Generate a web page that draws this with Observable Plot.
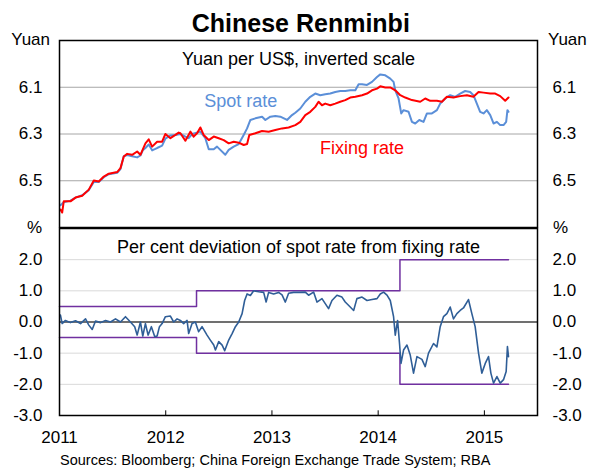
<!DOCTYPE html>
<html><head><meta charset="utf-8">
<script src="https://cdn.jsdelivr.net/npm/d3@7"></script>
<script src="https://cdn.jsdelivr.net/npm/@observablehq/plot@0.6"></script>
<style>
body{margin:0;background:#fff;}
#c{position:relative;width:592px;height:470px;font-family:"Liberation Sans",Arial,sans-serif;color:#000;overflow:hidden;}
.t{position:absolute;white-space:nowrap;line-height:1;}
svg{position:absolute;left:0;}
</style></head><body><div id="c"></div>
<script>
// ---- data (time as decimal years) ----
const yearTicks = [2011, 2012, 2013, 2014, 2015];
const rateTicks = [6.1, 6.3, 6.5];
const devTicks = [-3, -2, -1, 0, 1, 2];
const devGrid = [-2, -1, 1, 2];

// Fixing rate (yuan per US$)
const fixT = [2011.009,2011.025,2011.040,2011.103,2011.151,2011.214,2011.276,2011.323,2011.370,2011.417,
2011.464,2011.543,2011.574,2011.605,2011.637,2011.684,2011.731,2011.762,2011.809,2011.840,
2011.872,2011.919,2011.966,2011.997,2012.044,2012.091,2012.122,2012.138,2012.185,2012.232,
2012.263,2012.295,2012.326,2012.357,2012.405,2012.452,2012.499,2012.546,2012.593,2012.640,
2012.687,2012.734,2012.766,2012.787,2012.844,2012.907,2012.969,2013.032,2013.095,2013.157,
2013.220,2013.267,2013.314,2013.361,2013.408,2013.439,2013.471,2013.502,2013.549,2013.596,
2013.643,2013.690,2013.737,2013.785,2013.848,2013.895,2013.942,2013.989,2014.020,2014.067,
2014.114,2014.161,2014.208,2014.255,2014.318,2014.396,2014.443,2014.490,2014.553,2014.600,
2014.647,2014.709,2014.772,2014.835,2014.897,2014.945,2014.992,2015.055,2015.102,2015.149,
2015.196,2015.227];
const fixV = [6.623,6.636,6.588,6.588,6.572,6.564,6.538,6.499,6.503,6.482,
6.470,6.463,6.446,6.396,6.385,6.389,6.375,6.389,6.340,6.323,
6.354,6.333,6.333,6.300,6.318,6.304,6.294,6.297,6.329,6.290,
6.311,6.297,6.272,6.304,6.326,6.311,6.318,6.326,6.340,6.333,
6.337,6.347,6.343,6.304,6.297,6.287,6.290,6.283,6.276,6.272,
6.262,6.248,6.219,6.205,6.184,6.162,6.177,6.170,6.177,6.170,
6.162,6.155,6.144,6.141,6.134,6.127,6.113,6.106,6.096,6.101,
6.101,6.113,6.134,6.144,6.155,6.162,6.148,6.158,6.158,6.162,
6.141,6.144,6.138,6.134,6.141,6.120,6.123,6.127,6.127,6.138,
6.158,6.144];

// Spot rate (yuan per US$)
const spotT = [2011.009,2011.040,2011.103,2011.151,2011.214,2011.276,2011.323,2011.370,2011.417,2011.464,
2011.543,2011.574,2011.605,2011.637,2011.684,2011.731,2011.762,2011.784,2011.809,2011.840,
2011.872,2011.897,2011.919,2011.966,2011.997,2012.044,2012.091,2012.138,2012.185,2012.216,
2012.248,2012.326,2012.373,2012.405,2012.452,2012.483,2012.514,2012.561,2012.593,2012.640,
2012.687,2012.734,2012.766,2012.797,2012.844,2012.907,2012.938,2012.985,2013.032,2013.079,
2013.142,2013.189,2013.220,2013.267,2013.314,2013.361,2013.408,2013.455,2013.502,2013.549,
2013.596,2013.643,2013.690,2013.737,2013.785,2013.816,2013.848,2013.895,2013.942,2013.989,
2014.020,2014.067,2014.114,2014.145,2014.161,2014.192,2014.217,2014.239,2014.286,2014.318,
2014.349,2014.387,2014.427,2014.459,2014.506,2014.553,2014.584,2014.631,2014.678,2014.725,
2014.772,2014.819,2014.866,2014.897,2014.929,2014.960,2014.992,2015.023,2015.055,2015.086,
2015.118,2015.149,2015.180,2015.205,2015.217,2015.227];
const spotV = [6.605,6.592,6.585,6.572,6.562,6.540,6.505,6.505,6.485,6.472,
6.466,6.450,6.395,6.390,6.395,6.400,6.392,6.370,6.360,6.345,
6.370,6.365,6.360,6.350,6.320,6.306,6.304,6.300,6.311,6.318,
6.300,6.290,6.318,6.365,6.365,6.354,6.368,6.389,6.368,6.354,
6.343,6.304,6.276,6.240,6.233,6.226,6.240,6.226,6.223,6.226,
6.240,6.219,6.209,6.191,6.162,6.141,6.127,6.134,6.130,6.127,
6.120,6.116,6.116,6.113,6.113,6.087,6.087,6.090,6.077,6.056,
6.045,6.049,6.063,6.077,6.113,6.148,6.212,6.198,6.205,6.248,
6.255,6.240,6.248,6.212,6.212,6.198,6.170,6.148,6.134,6.141,
6.127,6.116,6.120,6.134,6.170,6.205,6.212,6.198,6.219,6.255,
6.248,6.262,6.262,6.248,6.198,6.205];

// Per cent deviation of spot rate from fixing rate
const devT = [2011.009,2011.025,2011.056,2011.103,2011.151,2011.198,2011.245,2011.276,2011.308,2011.339,
2011.386,2011.433,2011.480,2011.527,2011.574,2011.621,2011.668,2011.708,2011.731,2011.762,
2011.784,2011.809,2011.834,2011.865,2011.897,2011.919,2011.941,2011.966,2011.997,2012.044,
2012.075,2012.107,2012.138,2012.169,2012.201,2012.216,2012.248,2012.279,2012.310,2012.342,
2012.389,2012.420,2012.452,2012.468,2012.499,2012.531,2012.555,2012.593,2012.625,2012.656,
2012.687,2012.719,2012.743,2012.766,2012.797,2012.828,2012.875,2012.922,2012.945,2012.969,
2013.016,2013.063,2013.095,2013.126,2013.157,2013.204,2013.258,2013.314,2013.345,2013.392,
2013.424,2013.471,2013.502,2013.533,2013.565,2013.612,2013.659,2013.690,2013.737,2013.769,
2013.800,2013.848,2013.895,2013.942,2013.989,2014.020,2014.051,2014.083,2014.114,2014.145,
2014.161,2014.183,2014.201,2014.215,2014.239,2014.271,2014.302,2014.333,2014.365,2014.412,
2014.443,2014.474,2014.521,2014.553,2014.584,2014.615,2014.647,2014.678,2014.709,2014.741,
2014.772,2014.803,2014.850,2014.882,2014.913,2014.945,2014.976,2015.008,2015.039,2015.061,
2015.086,2015.118,2015.149,2015.180,2015.205,2015.217,2015.227];
const devV = [0.22,-0.05,0.05,-0.02,0.04,-0.05,0.10,-0.10,-0.24,0.03,
-0.02,0.05,0.00,0.10,0.00,0.17,0.00,-0.15,-0.42,0.00,
-0.45,-0.05,-0.42,-0.15,-0.47,-0.45,-0.15,-0.05,0.17,0.19,
0.00,0.10,0.05,-0.05,0.05,-0.37,-0.05,0.00,-0.31,-0.15,
-0.42,-0.58,-0.74,-0.90,-0.63,-0.74,-0.92,-0.58,-0.37,-0.15,
0.00,0.27,0.69,0.90,0.85,1.00,0.97,0.95,0.64,0.95,
0.90,0.95,0.87,0.64,0.92,0.95,0.95,0.96,0.86,0.96,
0.64,0.75,0.59,0.43,0.69,0.86,0.80,0.64,0.48,0.37,
0.75,0.80,0.69,0.72,0.75,0.90,0.96,0.86,0.69,0.17,
-0.42,0.05,-0.69,-1.33,-0.90,-0.74,-1.06,-1.64,-1.11,-1.20,
-1.43,-1.00,-0.69,-0.80,-0.15,0.17,0.27,0.48,0.10,0.27,
0.37,0.45,0.72,0.27,-0.15,-1.00,-1.64,-1.33,-1.11,-1.64,
-1.96,-1.75,-1.96,-1.85,-1.59,-0.79,-1.11];

// Trading band (+/- per cent around fixing)
const bandT = [2011, 2012.29, 2014.205, 2015.227];
const bandWidth = [0.5, 1, 2, 2];

// ---- build ----
const rows = (ts, vs) => ts.map((t, i) => ({t, v: vs[i]}));
const fix = rows(fixT, fixV);
const spot = rows(spotT, spotV);
const dev = rows(devT, devV);
const upper = rows(bandT, bandWidth);
const lower = rows(bandT, bandWidth.map(d => -d));

const font = "'Liberation Sans', Arial, sans-serif";
const spotColor = "#5b8fd8";
const fixColor = "#ff0000";
const f1 = d => d.toFixed(1);

const topChart = Plot.plot({
  width: 592, height: 228,
  marginTop: 40, marginBottom: 1, marginLeft: 59, marginRight: 55,
  x: {domain: [2011, 2015.5], axis: null, label: null},
  y: {domain: [5.9, 6.7], reverse: true, axis: null, label: null},
  style: {fontFamily: font, fontSize: "17px", background: "transparent", color: "#000", top: "0px"},
  marks: [
    Plot.ruleY(rateTicks, {stroke: "#a6a6a6", strokeWidth: 1}),
    Plot.axisY(rateTicks, {anchor: "left", tickSize: 0, tickPadding: 17, tickFormat: f1, label: null}),
    Plot.axisY(rateTicks, {anchor: "right", tickSize: 0, tickPadding: 15, tickFormat: f1, label: null}),
    Plot.line(spot, {x: "t", y: "v", stroke: spotColor, strokeWidth: 2}),
    Plot.line(fix, {x: "t", y: "v", stroke: fixColor, strokeWidth: 2}),
    Plot.text(["Spot rate"], {x: 2012.706, y: 6.16, fill: spotColor, fontSize: 18}),
    Plot.text(["Fixing rate"], {x: 2013.848, y: 6.359, fill: fixColor, fontSize: 18}),
    Plot.text(["Yuan per US$, inverted scale"], {frameAnchor: "top", dy: 12, fontSize: 18}),
    Plot.frame({stroke: "#000", strokeWidth: 1.5})
  ]
});

const botChart = Plot.plot({
  width: 592, height: 240,
  marginTop: 1, marginBottom: 52, marginLeft: 59, marginRight: 55,
  x: {domain: [2011, 2015.5], axis: null, label: null},
  y: {domain: [-3, 3], axis: null, label: null},
  style: {fontFamily: font, fontSize: "17px", background: "transparent", color: "#000", top: "227px"},
  marks: [
    Plot.ruleY(devGrid, {stroke: "#d9d9d9", strokeWidth: 1}),
    Plot.ruleY([0], {stroke: "#404040", strokeWidth: 1.3}),
    Plot.axisY(devTicks, {anchor: "left", tickSize: 0, tickPadding: 17, tickFormat: f1, label: null}),
    Plot.axisY(devTicks, {anchor: "right", tickSize: 0, tickPadding: 15, tickFormat: f1, label: null}),
    Plot.axisX(yearTicks, {anchor: "bottom", tickSize: 0, tickPadding: 15, tickFormat: d => String(d), label: null}),
    Plot.ruleX(yearTicks, {y1: -3, y2: -2.85, stroke: "#000", strokeWidth: 1}),
    Plot.line(upper, {x: "t", y: "v", curve: "step-after", stroke: "#7030a0", strokeWidth: 1.5}),
    Plot.line(lower, {x: "t", y: "v", curve: "step-after", stroke: "#7030a0", strokeWidth: 1.5}),
    Plot.line(dev, {x: "t", y: "v", stroke: "#2f5e97", strokeWidth: 1.6}),
    Plot.text(["Per cent deviation of spot rate from fixing rate"], {frameAnchor: "top", dy: 12, fontSize: 18}),
    Plot.frame({stroke: "#000", strokeWidth: 1.5})
  ]
});

const c = document.getElementById("c");
c.appendChild(topChart);
c.appendChild(botChart);

function addText(txt, css) {
  const d = document.createElement("div");
  d.className = "t";
  d.textContent = txt;
  Object.assign(d.style, css);
  c.appendChild(d);
}
addText("Chinese Renminbi", {left: "300.8px", top: "10.5px", transform: "translateX(-50%)", fontSize: "25px", fontWeight: "bold"});
addText("Yuan", {right: "542px", top: "31.2px", fontSize: "17px"});
addText("Yuan", {left: "548px", top: "31.2px", fontSize: "17px"});
addText("%", {right: "550px", top: "219.2px", fontSize: "17px"});
addText("%", {left: "553px", top: "219.2px", fontSize: "17px"});
addText("Sources: Bloomberg; China Foreign Exchange Trade System; RBA", {left: "60px", top: "453px", fontSize: "14.5px"});
</script></body></html>
